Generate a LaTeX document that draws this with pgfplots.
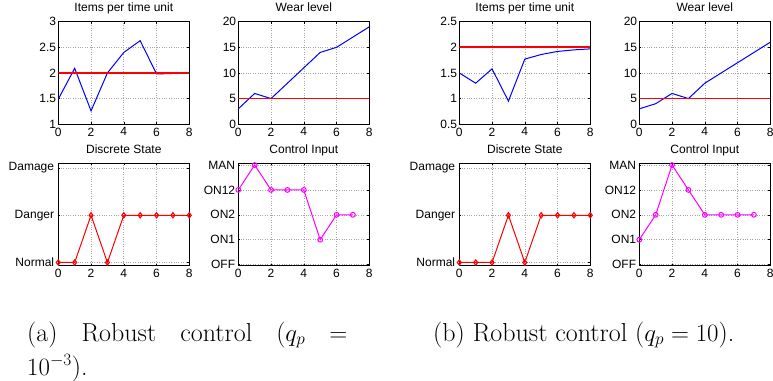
\documentclass[border=0pt]{standalone}
\usepackage{fontspec}
\usepackage{pgfplots}
\pgfplotsset{compat=1.18}
\newfontfamily\helv{Liberation Sans}
\definecolor{mblue}{RGB}{0,0,255}
\definecolor{mred}{RGB}{255,0,0}
\definecolor{mmag}{RGB}{255,0,255}
\pgfplotsset{
  base/.style={
    width=131pt, height=102.5pt, scale only axis, anchor=north west,
    xmin=0, xmax=8, xtick={0,2,4,6,8},
    grid=major, major grid style={dotted, black!35, line width=0.6pt},
    tick align=inside, major tick length=2pt,
    tick style={black, line width=0.5pt},
    axis line style={black, line width=0.9pt},
    tick label style={font=\helv\fontsize{12}{14}\selectfont},
    yticklabel style={inner sep=2pt},
    /pgf/number format/assume math mode=true,
    title style={font=\helv\fontsize{12}{14}\selectfont, at={(0.5,1)}, anchor=base, yshift=4pt},
  },
  items/.style={base},
  wear/.style={base, ymin=0, ymax=20, ytick={0,5,10,15,20}, title={Wear level}},
  disc/.style={base, ymin=-0.07, ymax=2.1, ytick={0,1,2}, yticklabels={Normal,Danger,Damage}, title={Discrete State}, yticklabel style={inner sep=4pt}},
  ctrl/.style={base, ymin=-0.05, ymax=4.07, ytick={0,1,2,3,4}, yticklabels={OFF,ON1,ON2,ON12,MAN}, title={Control Input}, yticklabel style={inner sep=3pt}},
  blueline/.style={mblue, line width=1pt},
  redref/.style={mred, line width=2.2pt},
  redthin/.style={mred, line width=1pt},
  discline/.style={mred, line width=1pt, mark=diamond, mark size=2.6pt, mark options={solid, line width=1.1pt}},
  ctrlline/.style={mmag, line width=1pt, mark=o, mark size=2.4pt, mark options={solid, line width=1pt}},
}
\begin{document}
\begin{tikzpicture}
\path[use as bounding box] (0pt,0pt) rectangle (773pt,-380pt);
% ---------- (a) ----------
\begin{axis}[items, at={(58.3pt,-21.7pt)}, ymin=1, ymax=3, ytick={1,1.5,2,2.5,3}, title={Items per time unit}]
\addplot[blueline] coordinates {(0,1.49) (1,2.09) (2,1.26) (3,2.0) (4,2.40) (5,2.63) (6,1.98) (7,1.99) (8,1.99)};
\addplot[redref] coordinates {(0,2) (8,2)};
\end{axis}
\begin{axis}[wear, at={(238.3pt,-21.7pt)}]
\addplot[blueline] coordinates {(0,3) (1,6) (2,5) (3,8) (4,11) (5,14) (6,15) (7,17) (8,19)};
\addplot[redthin] coordinates {(0,5.1) (8,5.1)};
\end{axis}
\begin{axis}[disc, at={(58.3pt,-163.3pt)}]
\addplot[discline] coordinates {(0,0) (1,0) (2,1) (3,0) (4,1) (5,1) (6,1) (7,1) (8,1)};
\end{axis}
\begin{axis}[ctrl, at={(238.3pt,-163.3pt)}]
\addplot[ctrlline] coordinates {(0,3) (1,4) (2,3) (3,3) (4,3) (5,1) (6,2) (7,2)};
\end{axis}
% ---------- (b) ----------
\begin{axis}[items, at={(459.3pt,-21.7pt)}, ymin=0.5, ymax=2.5, ytick={0.5,1,1.5,2,2.5}, title={Items per time unit}]
\addplot[blueline] coordinates {(0,1.5) (1,1.3) (2,1.58) (3,0.95) (4,1.77) (5,1.86) (6,1.92) (7,1.95) (8,1.97)};
\addplot[redref] coordinates {(0,2) (8,2)};
\end{axis}
\begin{axis}[wear, at={(639.3pt,-21.7pt)}]
\addplot[blueline] coordinates {(0,3) (1,4) (2,6) (3,5) (4,8) (5,10) (6,12) (7,14) (8,16)};
\addplot[redthin] coordinates {(0,5.1) (8,5.1)};
\end{axis}
\begin{axis}[disc, at={(459.3pt,-163.3pt)}]
\addplot[discline] coordinates {(0,0) (1,0) (2,0) (3,1) (4,0) (5,1) (6,1) (7,1) (8,1)};
\end{axis}
\begin{axis}[ctrl, at={(639.3pt,-163.3pt)}]
\addplot[ctrlline] coordinates {(0,1) (1,2) (2,4) (3,3) (4,2) (5,2) (6,2) (7,2)};
\end{axis}
% ---------- captions ----------
\node[anchor=base west, inner sep=0pt, font=\fontsize{26}{30}\selectfont] at (27pt,-341pt) {\makebox[320pt][s]{(a) Robust control ($q_p$ $=$}};
\node[anchor=base west, inner sep=0pt, font=\fontsize{26}{30}\selectfont] at (27pt,-375pt) {$10^{-3}$).};
\node[anchor=base west, inner sep=0pt, font=\fontsize{26}{30}\selectfont] at (433pt,-341pt) {(b) Robust control ($q_p = 10$).};
\end{tikzpicture}
\end{document}
